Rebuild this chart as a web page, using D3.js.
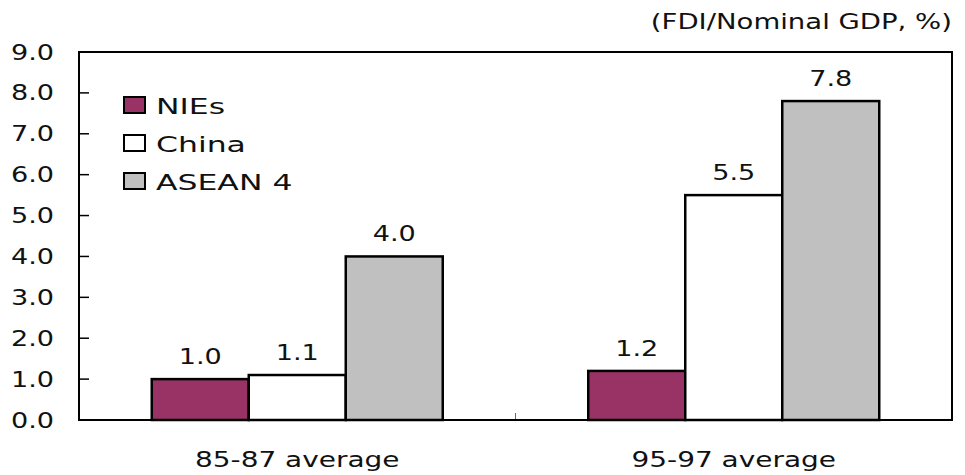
<!DOCTYPE html>
<html>
<head>
<meta charset="utf-8">
<script src="https://cdn.jsdelivr.net/npm/d3@7"></script>
<style>
  html, body { margin: 0; padding: 0; background: #fff; }
  svg { display: block; }
  text { font-family: "DejaVu Sans", sans-serif; fill: #111; }
</style>
</head>
<body>
<svg id="chart" width="965" height="475"></svg>
<script>
// FDI inflows relative to nominal GDP, by region and period
const periods = ["85-87 average", "95-97 average"];
const regions = ["NIEs", "China", "ASEAN 4"];
const niesValues = [1.0, 1.2];
const chinaValues = [1.1, 5.5];
const aseanValues = [4.0, 7.8];
const yTicks = [0, 1, 2, 3, 4, 5, 6, 7, 8, 9];
const unitLabel = "(FDI/Nominal GDP, %)";

const colors = { "NIEs": "#993366", "China": "#ffffff", "ASEAN 4": "#c0c0c0" };
const seriesValues = { "NIEs": niesValues, "China": chinaValues, "ASEAN 4": aseanValues };

const rows = periods.map((p, i) => ({
  period: p,
  values: regions.map(r => ({ region: r, value: seriesValues[r][i] }))
}));

const svg = d3.select("#chart");
const margin = { left: 79, right: 13, top: 52, bottom: 55 };
const W = 965, H = 475;
const x0 = margin.left, x1 = W - margin.right;
const y0 = H - margin.bottom, y1 = margin.top;

const x = d3.scaleBand().domain(periods).range([x0, x1]).paddingInner(0).paddingOuter(0);
const xInner = d3.scaleBand().domain(regions).range([0, x.bandwidth() * 2 / 3]);
const y = d3.scaleLinear().domain([0, 9]).range([y0, y1]);

const fs = 22;
const fmt = d3.format(".1f");

// stretch text horizontally for a wide sans look
function widen(sel, factor) {
  sel.each(function () {
    const L = this.getComputedTextLength();
    d3.select(this).attr("textLength", L * factor).attr("lengthAdjust", "spacingAndGlyphs");
  });
}

// y axis labels + inward ticks
const yAxis = svg.append("g").attr("transform", `translate(${x0},0)`)
  .call(d3.axisLeft(y).tickValues(yTicks).tickFormat(fmt).tickSize(0).tickPadding(25));
yAxis.select(".domain").remove();
yAxis.selectAll("text").attr("font-size", fs)
  .attr("font-family", "DejaVu Sans, sans-serif").attr("fill", "#111")
  .call(widen, 1.23);

svg.append("g").selectAll("line").data(yTicks.slice(1, -1)).join("line")
  .attr("x1", x0).attr("x2", x0 + 10)
  .attr("y1", d => y(d)).attr("y2", d => y(d))
  .attr("stroke", "#000").attr("stroke-width", 1.5);

// bars
const groups = svg.append("g").selectAll("g").data(rows).join("g")
  .attr("transform", d => `translate(${x(d.period) + x.bandwidth() / 6},0)`);

groups.selectAll("rect").data(d => d.values).join("rect")
  .attr("x", d => xInner(d.region))
  .attr("y", d => y(d.value))
  .attr("width", xInner.bandwidth())
  .attr("height", d => y0 - y(d.value))
  .attr("fill", d => colors[d.region])
  .attr("stroke", "#000").attr("stroke-width", 2.5);

groups.selectAll("text").data(d => d.values).join("text")
  .attr("x", d => xInner(d.region) + xInner.bandwidth() / 2)
  .attr("y", d => y(d.value) - 15)
  .attr("text-anchor", "middle")
  .attr("font-size", fs)
  .text(d => fmt(d.value))
  .call(widen, 1.23);

// category axis
const xAxis = svg.append("g").attr("transform", `translate(0,${y0})`)
  .call(d3.axisBottom(x).tickSize(0).tickPadding(31));
xAxis.select(".domain").remove();
xAxis.selectAll("text").attr("font-size", fs)
  .attr("font-family", "DejaVu Sans, sans-serif").attr("fill", "#111")
  .call(widen, 1.27);

svg.append("line")
  .attr("x1", x(periods[1])).attr("x2", x(periods[1]))
  .attr("y1", y0).attr("y2", y0 - 7)
  .attr("stroke", "#666").attr("stroke-width", 1);

// plot frame
svg.append("rect")
  .attr("x", x0).attr("y", y1).attr("width", x1 - x0).attr("height", y0 - y1)
  .attr("fill", "none").attr("stroke", "#000").attr("stroke-width", 2);

// unit label
svg.append("text").attr("x", W - 13).attr("y", 29).attr("text-anchor", "end")
  .attr("font-size", 21).text(unitLabel)
  .call(widen, 1.31);

// legend
const legend = svg.append("g").attr("transform", "translate(124,97)");
const li = legend.selectAll("g").data(regions).join("g")
  .attr("transform", (d, i) => `translate(0,${i * 38})`);
li.append("rect").attr("width", 21).attr("height", 16)
  .attr("fill", d => colors[d]).attr("stroke", "#000").attr("stroke-width", 2);
li.append("text").attr("x", 32).attr("y", 17)
  .attr("font-size", fs).text(d => d)
  .call(widen, 1.43);
</script>
</body>
</html>
